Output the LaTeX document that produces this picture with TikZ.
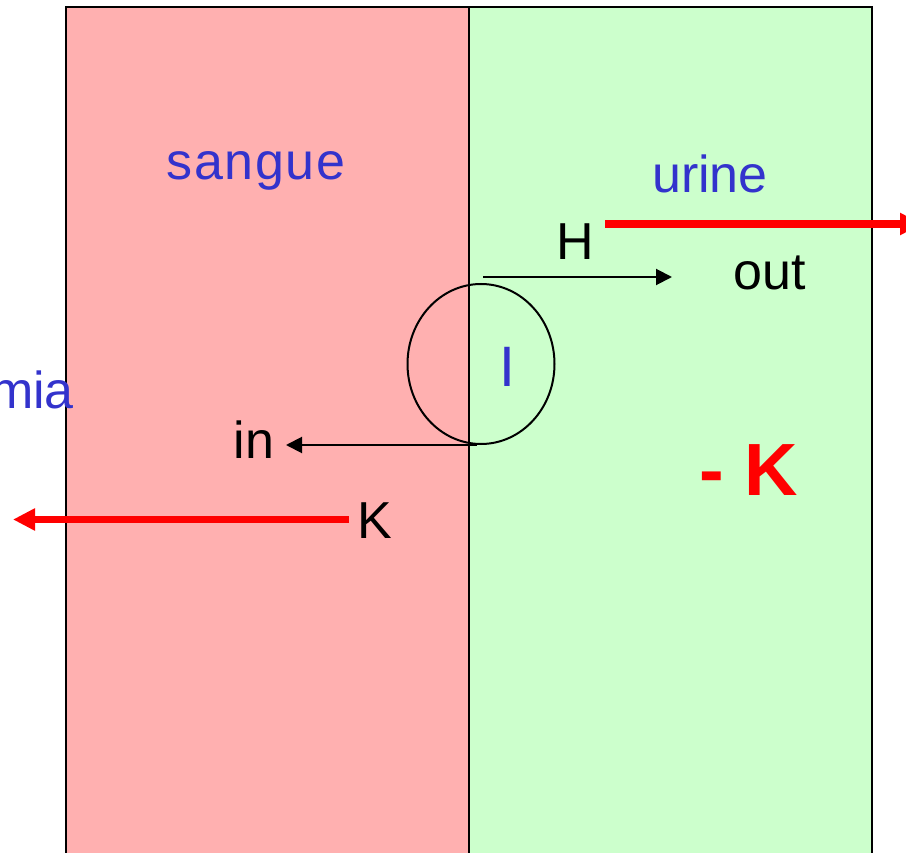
\documentclass[tikz,border=0pt]{standalone}
\usepackage{fontspec}
\setmainfont{Liberation Sans}
\usetikzlibrary{arrows.meta,shapes.geometric}
\definecolor{bloodpink}{HTML}{FFB0B0}
\definecolor{urinegreen}{HTML}{CCFFCC}
\definecolor{labelblue}{HTML}{3333CC}
\definecolor{arrowred}{HTML}{FF0000}
\tikzset{
  lbl/.style={inner sep=0pt, anchor=base, font=\fontsize{52}{60}\selectfont},
  bluelbl/.style={lbl, text=labelblue},
  blacklbl/.style={lbl, text=black},
  thinarrow/.style={draw=black, line width=2pt, -{Triangle[length=16pt,width=16pt]}},
  redarrow/.style={draw=arrowred, line width=7.5pt, -{Triangle[length=22pt,width=21pt]}},
  panel/.style={draw=black, line width=2.5pt},
}
\begin{document}
\begin{tikzpicture}[x=1pt,y=-1pt]
\useasboundingbox (0,0) rectangle (906,853);
% panels
\fill[bloodpink] (66,7) rectangle (469,880);
\fill[urinegreen] (469,7) rectangle (872,880);
\draw[panel] (66,880) -- (66,7) -- (872,7) -- (872,880);
\draw[panel] (469,7) -- (469,880);
% channel
\node (chan) [draw=black, line width=2pt, ellipse, minimum width=147pt, minimum height=160pt, inner sep=0pt] at (481,364) {};
% labels
\node (sangue) [bluelbl, font=\fontsize{52}{60}\addfontfeature{LetterSpace=3}\selectfont] at (256,180) {sangue};
\node (urine) [bluelbl] at (710,193) {urine};
\node (H) [blacklbl] at (575,260) {H};
\node (out) [blacklbl] at (770,290) {out};
\node (I) [bluelbl, font=\fontsize{57}{64}\selectfont] at (507,386) {I};
\node (mia) [bluelbl, anchor=base east] at (74,409) {mia};
\node (in) [blacklbl] at (254,458) {in};
\node (K) [blacklbl] at (375,538) {K};
\node (minusK) [lbl, text=arrowred, font=\fontsize{74}{80}\bfseries\selectfont] at (749,495) {- K};
% coordinates for arrow ends
\coordinate (outstart) at (483,277);
\coordinate (outend) at (672,277);
\coordinate (instart) at (477,445);
\coordinate (inend) at (286,445);
\coordinate (Hstart) at (605,224);
\coordinate (Hend) at (922,224);
\coordinate (Kstart) at (349,519.5);
\coordinate (Kend) at (13,519.5);
% arrows
\draw[thinarrow] (outstart) -- (outend);
\draw[thinarrow] (instart) -- (inend);
\draw[redarrow] (Hstart) -- (Hend);
\draw[redarrow] (Kstart) -- (Kend);
\end{tikzpicture}
\end{document}
